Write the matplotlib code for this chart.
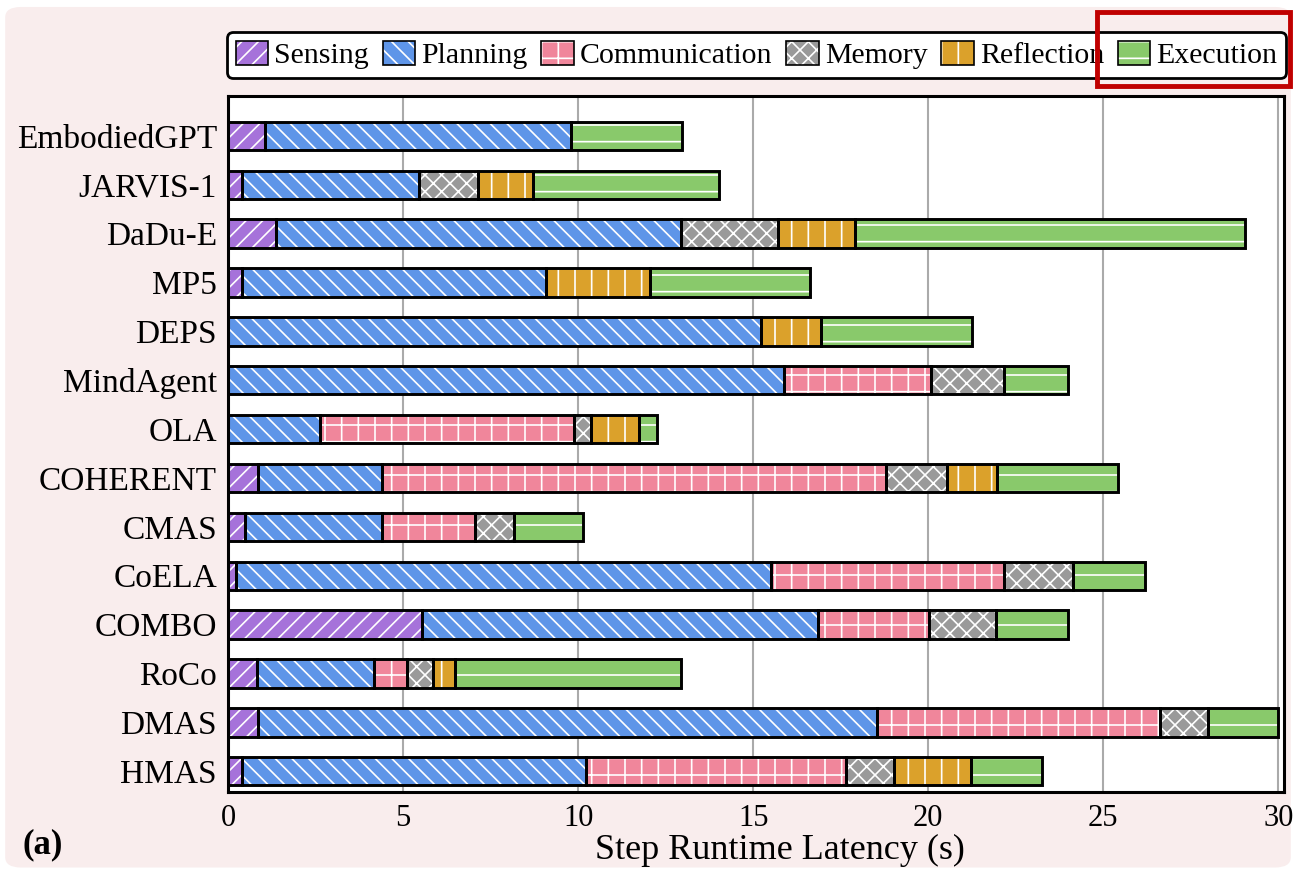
import matplotlib.pyplot as plt
import numpy as np
from matplotlib.patches import Patch, FancyBboxPatch, Rectangle
from matplotlib.legend_handler import HandlerTuple

plt.rcParams['font.family'] = ['Liberation Serif', 'DejaVu Serif']
plt.rcParams['hatch.linewidth'] = 1.2

# data (seconds), top to bottom
methods = ['EmbodiedGPT', 'JARVIS-1', 'DaDu-E', 'MP5', 'DEPS', 'MindAgent', 'OLA',
           'COHERENT', 'CMAS', 'CoELA', 'COMBO', 'RoCo', 'DMAS', 'HMAS']
stages = ['Sensing', 'Planning', 'Communication', 'Memory', 'Reflection', 'Execution']

sensing       = [1.05, 0.40, 1.37, 0.40, 0.00, 0.00, 0.00, 0.85, 0.48, 0.24, 5.53, 0.82, 0.85, 0.39]
planning      = [8.75, 5.05, 11.56, 8.67, 15.22, 15.89, 2.62, 3.56, 3.91, 15.27, 11.32, 3.35, 17.68, 9.84]
communication = [0.00, 0.00, 0.00, 0.00, 0.00, 4.20, 7.25, 14.37, 2.66, 6.65, 3.18, 0.93, 8.10, 7.42]
memory        = [0.00, 1.70, 2.77, 0.00, 0.00, 2.08, 0.50, 1.75, 1.13, 1.96, 1.89, 0.74, 1.35, 1.38]
reflection    = [0.00, 1.55, 2.20, 2.98, 1.72, 0.00, 1.36, 1.42, 0.00, 0.00, 0.00, 0.65, 0.00, 2.20]
execution     = [3.17, 5.32, 11.15, 4.58, 4.31, 1.83, 0.51, 3.48, 1.97, 2.07, 2.08, 6.46, 2.01, 2.01]

colors = ['#A672DA', '#5E95E8', '#F0869B', '#9A9A9A', '#DBA12B', '#89C96B']
hatches = ['//', '\\\\', '+', 'xx', '|', '-']

data = np.array([sensing, planning, communication, memory, reflection, execution])

fig = plt.figure(figsize=(12.96, 8.71), dpi=100)
fig.patch.set_facecolor('white')
bg = FancyBboxPatch((0.004, 0.004), 0.992, 0.988, boxstyle='round,pad=0,rounding_size=0.012',
                    transform=fig.transFigure, facecolor='#F9EDED', edgecolor='none', zorder=-10)
fig.patches.append(bg)

ax = fig.add_axes([0.176, 0.091, 0.815, 0.799])
ax.set_facecolor('white')

y = np.arange(len(methods))[::-1]
left = np.zeros(len(methods))
for i, st in enumerate(stages):
    vals = data[i]
    ax.barh(y, vals, left=left, height=0.58, color=colors[i], edgecolor='white',
            hatch=hatches[i], linewidth=0, zorder=2)
    ax.barh(y, vals, left=left, height=0.58, fill=False, edgecolor='black',
            linewidth=2.1, zorder=3)
    left += vals

ax.set_xlim(0, 30.17)
ax.set_ylim(-0.42, 13.82)
ax.set_yticks(y)
ax.set_yticklabels(methods, fontsize=24)
ax.set_xticks(np.arange(0, 31, 5))
ax.tick_params(axis='x', labelsize=22, length=0, pad=9)
ax.tick_params(axis='y', length=0, pad=8)
ax.xaxis.grid(True, color='#AAAAAA', linewidth=1.5, zorder=0)
ax.set_axisbelow(True)
for sp in ax.spines.values():
    sp.set_linewidth(2.2)
ax.set_xlabel('Step Runtime Latency (s)', fontsize=26, labelpad=0)
ax.xaxis.set_label_coords(0.522, -0.06)

handles = [(Patch(facecolor=colors[i], edgecolor='white', hatch=hatches[i], linewidth=0),
            Patch(fill=False, edgecolor='black', linewidth=1.2)) for i in range(6)]
leg = fig.legend(handles, stages, loc='lower center', bbox_to_anchor=(756.5 / 1296, 1 - 78 / 871),
                 ncol=6, fontsize=21.5, handler_map={tuple: HandlerTuple(ndivide=1)},
                 handlelength=1.1, handleheight=0.85, handletextpad=0.2, columnspacing=0.45,
                 borderpad=0.3, borderaxespad=0, fancybox=True, edgecolor='black',
                 framealpha=1)
leg.get_frame().set_linewidth(2)

fig.text(0.017, 0.03, '(a)', fontsize=25, fontweight='bold', va='center')

# highlight box around Execution entry
fig.patches.append(Rectangle((1097 / 1296, 1 - 86 / 871), 193 / 1296, 74 / 871,
                             transform=fig.transFigure, fill=False, edgecolor='#C00000',
                             linewidth=3.5, zorder=10))

fig.savefig('out.png', dpi=100, facecolor=fig.get_facecolor())
